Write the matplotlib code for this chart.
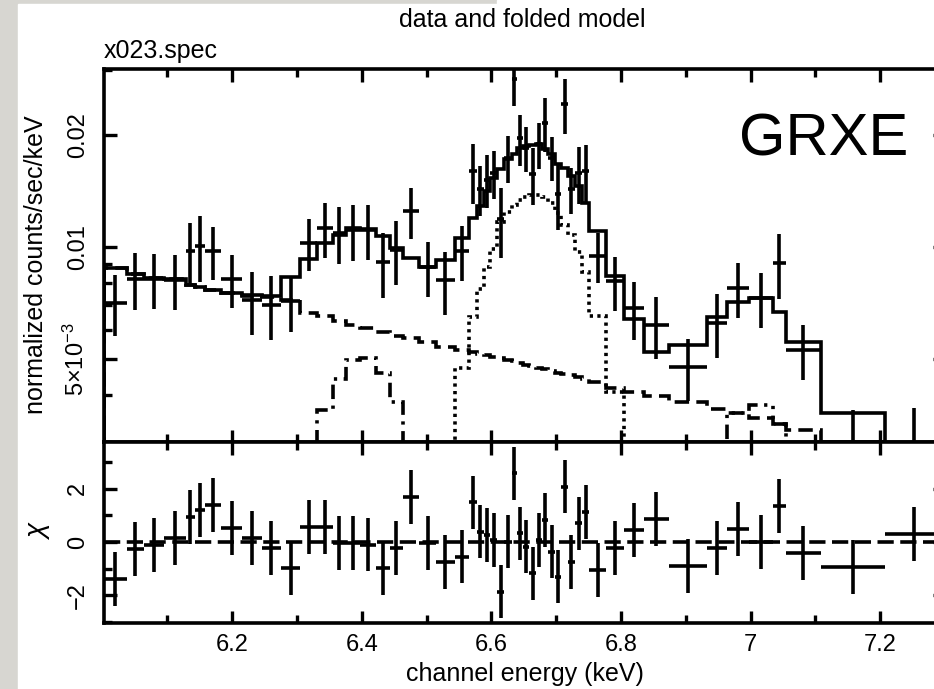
import numpy as np
import matplotlib
matplotlib.use("Agg")
import matplotlib.pyplot as plt
from matplotlib.patches import Rectangle
from matplotlib.ticker import NullFormatter

plt.rcParams['font.family'] = ['Liberation Sans', 'DejaVu Sans']
plt.rcParams['mathtext.fontset'] = 'custom'
plt.rcParams['mathtext.rm'] = 'Liberation Sans'
plt.rcParams['mathtext.it'] = 'Liberation Sans:italic'

# channel bin edges (keV), one more than the number of bins
edges = [6.002, 6.037, 6.063, 6.094, 6.128, 6.142, 6.158, 6.183, 6.215, 6.246,
         6.275, 6.305, 6.331, 6.355, 6.375, 6.397, 6.422, 6.443, 6.463, 6.488,
         6.515, 6.543, 6.566, 6.577, 6.588, 6.598, 6.609, 6.620, 6.631, 6.640,
         6.649, 6.658, 6.669, 6.678, 6.688, 6.698, 6.708, 6.718, 6.729, 6.740,
         6.751, 6.777, 6.805, 6.835, 6.874, 6.932, 6.963, 6.998, 7.035, 7.054,
         7.109, 7.208, 7.297]

# data (normalized counts/sec/keV) and 1-sigma errors
counts = [0.0071, 0.0082, 0.0082, 0.00815, 0.00976, 0.0101, 0.00976, 0.0082, 0.0072, 0.0070,
          0.00716, 0.01025, 0.01125, 0.0109, 0.0111, 0.0111, 0.00911, 0.00982, 0.0125, 0.00884,
          0.00815, 0.00976,
          0.0160, 0.0143, 0.0152, 0.0158, 0.0119, 0.0174, 0.0283, 0.0196, 0.0185, 0.0157,
          0.0189, 0.0216, 0.0174, 0.0139, 0.0242, 0.0143, 0.0158, 0.0160,
          0.00946, 0.0081, 0.00686, 0.00617, 0.00476, 0.00625, 0.00776, 0.00729, 0.00906, 0.00529,
          0.0030, 0.0029]
count_err = [0.00134, 0.00143, 0.00137, 0.00137, 0.00185, 0.00202, 0.00158, 0.00131, 0.00139, 0.00137,
             0.00122, 0.00163, 0.00187, 0.00189, 0.00191, 0.00187, 0.0018, 0.00192, 0.00196, 0.00149,
             0.00157, 0.00163,
             0.00295, 0.00219, 0.00245, 0.00232, 0.00256, 0.00254, 0.00435, 0.00309, 0.00254, 0.00273,
             0.00265, 0.00356, 0.00233, 0.00277, 0.00411, 0.00199, 0.00273, 0.00278,
             0.00146, 0.00134, 0.00122, 0.00116, 0.0009, 0.00122, 0.00129, 0.00123, 0.0018, 0.00089,
             0.00065, 0.0008]

# folded model, total and components
model = [0.0088, 0.0085, 0.00825, 0.0082, 0.0079, 0.00781, 0.00766, 0.00752, 0.00745, 0.0074,
         0.0083, 0.0093, 0.01025, 0.01077, 0.01125, 0.01118, 0.0107, 0.00994, 0.00934, 0.00884,
         0.00923, 0.01057,
         0.01197, 0.01289, 0.01414, 0.01533, 0.01621, 0.01724, 0.01778, 0.01846, 0.01869, 0.0188,
         0.01892, 0.01834, 0.01778, 0.01672, 0.01631, 0.01552, 0.01459, 0.01313,
         0.01104, 0.00836, 0.0064, 0.00522, 0.00545, 0.00648, 0.00711, 0.00729, 0.00669, 0.00555,
         0.0036, 0.0028]
continuum = [0.0088, 0.0085, 0.00825, 0.0082, 0.0079, 0.00781, 0.00766, 0.00752, 0.0074, 0.00735,
             0.0072, 0.00665, 0.00652, 0.00633, 0.00617, 0.00606, 0.00591, 0.00576, 0.00569, 0.00555,
             0.00539, 0.00529,
             0.00522, 0.00516, 0.00513, 0.00506, 0.00503, 0.00497, 0.00494, 0.00488, 0.00482, 0.00479,
             0.00473, 0.0047, 0.00464, 0.00461, 0.00456, 0.00453, 0.00447, 0.00444,
             0.00436, 0.0042, 0.00408, 0.00398, 0.00383, 0.00369, 0.00358, 0.00347, 0.00336, 0.00324,
             0.00292, 0.00285]
fe64 = [0.00365, 0.00444, 0.00497, 0.00503, 0.00461, 0.00383]          # bins 12..17
fe67 = [0.00473, 0.00648, 0.00771, 0.00884, 0.00988, 0.01167, 0.01242, 0.01297, 0.01338, 0.01363,
        0.0138, 0.0138, 0.01363, 0.01313, 0.01234, 0.01146, 0.01077, 0.00969, 0.00857, 0.00652,
        0.00408]                                                           # bins 21..41
fe70 = [0.00358, 0.00376, 0.00336]                                         # bins 46..48

# residuals (delta chi)
chi = [-1.38, -0.26, -0.11, 0.15, 0.94, 1.2, 1.38, 0.52, 0.15, -0.22,
       -0.97, 0.56, 0.56, -0.04, -0.04, -0.1, -0.97, -0.22, 1.69, -0.04,
       -0.75, -0.55,
       1.48, 0.39, 0.26, 0.07, -1.86, 0.01, 2.57, 0.32, -0.17, -1.17,
       0.07, 0.82, -0.36, -1.3, 2.07, -0.74, 0.7, 1.13,
       -1.05, -0.22, 0.45, 0.86, -0.9, -0.22, 0.49, 0.0, 1.35, -0.41,
       -0.93, 0.3]

xticks = [6.2, 6.4, 6.6, 6.8, 7.0, 7.2]
xtick_labels = ['6.2', '6.4', '6.6', '6.8', '7', '7.2']
yticks_top = [0.005, 0.01, 0.02]
ytick_labels_top = [r'5$\times$10$^{-3}$', '0.01', '0.02']

edges = np.array(edges)
xc = 0.5 * (edges[1:] + edges[:-1])
xw = 0.5 * (edges[1:] - edges[:-1])

W, H = 934, 689
fig = plt.figure(figsize=(W / 100, H / 100), dpi=100)
fig.patch.set_facecolor('#d7d6d1')
fig.add_artist(Rectangle((18 / W, 0), 1, 1 - 4 / H, transform=fig.transFigure,
                         color='white', zorder=-2))
fig.add_artist(Rectangle((497 / W, 1 - 4 / H), 1, 4 / H, transform=fig.transFigure,
                         color='white', zorder=-2))

ax1 = fig.add_axes([104 / W, 1 - 442 / H, 841 / W, 373 / H])
ax2 = fig.add_axes([104 / W, 1 - 623 / H, 841 / W, 181 / H])

lw = 2.6
k = 'black'

# ---- upper panel: data and folded model
ax1.errorbar(xc, counts, xerr=xw, yerr=count_err, fmt='none', ecolor=k,
             elinewidth=lw, capsize=0)
ax1.stairs(model, edges, color=k, lw=lw)
ax1.stairs(continuum, edges, color=k, lw=lw, ls=(0, (4, 2)))
ax1.stairs(fe64, edges[12:19], baseline=1e-4, color=k, lw=lw, ls=(0, (4, 1.8, 0.9, 1.8)))
ax1.stairs(fe67, edges[21:43], baseline=1e-4, color=k, lw=lw, ls=(0, (0.9, 1.2)))
ax1.stairs(fe70, edges[46:50], baseline=1e-4, color=k, lw=lw,
           ls=(0, (4, 1.8, 0.9, 1.8, 0.9, 1.8, 0.9, 1.8)))

ax1.set_yscale('log')
ax1.set_ylim(0.003, 0.0301)
ax1.set_yticks(yticks_top, labels=ytick_labels_top)
ax1.set_yticks([0.003, 0.004, 0.006, 0.007, 0.008, 0.009, 0.03], minor=True)
ax1.yaxis.set_minor_formatter(NullFormatter())

# ---- lower panel: residuals
ax2.errorbar(xc, chi, xerr=xw, yerr=1.0, fmt='none', ecolor=k, elinewidth=lw, capsize=0)
ax2.axhline(0, color=k, lw=lw, ls=(0, (4.5, 1.8)))
ax2.set_ylim(-3.03, 3.74)
ax2.set_yticks([-2, 0, 2])
ax2.set_yticks([-3, -1, 1, 3], minor=True)

for ax in (ax1, ax2):
    ax.set_xlim(edges[0], edges[-1])
    ax.set_xticks(xticks, labels=xtick_labels)
    ax.set_xticks(np.arange(6.1, 7.3, 0.2), minor=True)
    ax.tick_params(which='both', direction='in', top=True, right=True,
                   width=2.4, color=k, labelsize=17)
    ax.tick_params(which='major', length=9)
    ax.tick_params(which='minor', length=5.5)
    ax.tick_params(axis='y', labelrotation=90, pad=11)
    ax.tick_params(axis='x', pad=8)
    for s in ax.spines.values():
        s.set_linewidth(2.6)
    plt.setp(ax.get_yticklabels(), va='center')

ax1.tick_params(axis='x', labelbottom=False)

fig.text(522 / W, 1 - 27 / H, 'data and folded model', ha='center', va='baseline', fontsize=18)
fig.text(104 / W, 1 - 58 / H, 'x023.spec', ha='left', va='baseline', fontsize=18)
fig.text(525 / W, 1 - 681 / H, 'channel energy (keV)', ha='center', va='baseline', fontsize=18)
fig.text(36 / W, 1 - 265 / H, 'normalized counts/sec/keV', rotation=90,
         ha='center', va='center', fontsize=18)
fig.text(39 / W, 1 - 530 / H, r'$\chi$', rotation=90, ha='center', va='center', fontsize=20)
fig.text(739 / W, 1 - 155 / H, 'GRXE', ha='left', va='baseline', fontsize=43)

fig.savefig('out.png', dpi=100, facecolor=fig.get_facecolor())
